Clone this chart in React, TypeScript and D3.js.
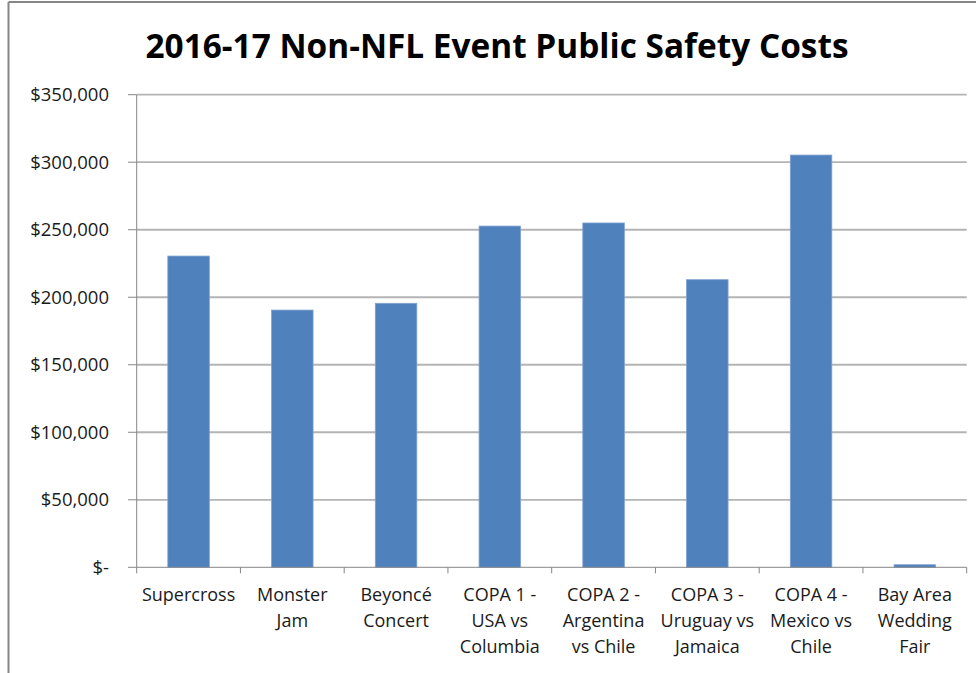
import React from "react";
import * as d3 from "d3";

const categories: string[][] = [
  ["Supercross"],
  ["Monster", "Jam"],
  ["Beyoncé", "Concert"],
  ["COPA 1 -", "USA vs", "Columbia"],
  ["COPA 2 -", "Argentina", "vs Chile"],
  ["COPA 3 -", "Uruguay vs", "Jamaica"],
  ["COPA 4 -", "Mexico vs", "Chile"],
  ["Bay Area", "Wedding", "Fair"],
];
const costs: number[] = [230500, 190500, 195500, 252700, 255000, 213000, 305300, 1900];
const yTicks: number[] = [0, 50000, 100000, 150000, 200000, 250000, 300000, 350000];
const title = "2016-17 Non-NFL Event Public Safety Costs";

const W = 976;
const H = 673;
const left = 136.7;
const right = 966.7;
const top = 94.7;
const bottom = 567.3;
const font = "'Open Sans', 'Noto Sans', sans-serif";

export default function App() {
  const ids = categories.map((_, i) => String(i));
  const x = d3.scaleBand<string>().domain(ids).range([left, right]).paddingInner(0.6).paddingOuter(0.3);
  const y = d3.scaleLinear().domain([0, 350000]).range([bottom, top]);
  const fmt = (v: number) => (v === 0 ? "$-" : "$" + d3.format(",")(v));
  const step = x.step();
  const tickXs = d3.range(categories.length + 1).map((i) => left + i * step);

  return (
    <svg width={W} height={H} style={{ position: "absolute", left: 0, top: 0, background: "#fff" }}>
      <rect x={0} y={0} width={W} height={H} fill="#fff" />
      <line x1={8.5} y1={2} x2={8.5} y2={H} stroke="#868686" strokeWidth={2} />
      <line x1={8.5} y1={2} x2={W} y2={2} stroke="#868686" strokeWidth={2} />
      <text x={497} y={58} textAnchor="middle" fontFamily={font} fontWeight="bold" fontSize={34} fill="#000"
        textLength={703} lengthAdjust="spacingAndGlyphs">
        {title}
      </text>
      {yTicks.map((t) => (
        <g key={t}>
          {t > 0 && <line x1={left} x2={right} y1={y(t)} y2={y(t)} stroke="#B4B4B4" strokeWidth={1.8} />}
          <line x1={128} x2={left} y1={y(t)} y2={y(t)} stroke="#868686" strokeWidth={1} />
          <text x={109} y={y(t)} dy="0.35em" textAnchor="end" fontFamily={font} fontSize={18.5} fill="#1a1a1a">
            {fmt(t)}
          </text>
        </g>
      ))}
      {costs.map((v, i) => (
        <rect key={i} x={x(ids[i])} y={y(v)} width={x.bandwidth()} height={bottom - y(v)}
          fill="#4F81BD" stroke="#7EA1CF" strokeWidth={0.8} />
      ))}
      <line x1={left} x2={left} y1={top} y2={bottom} stroke="#868686" strokeWidth={1} />
      <line x1={left} x2={right} y1={bottom} y2={bottom} stroke="#868686" strokeWidth={1} />
      {tickXs.map((tx, i) => (
        <line key={i} x1={tx} x2={tx} y1={bottom} y2={bottom + 6} stroke="#868686" strokeWidth={1} />
      ))}
      {categories.map((lines, i) => (
        <text key={i} textAnchor="middle" fontFamily={font} fontSize={18} fill="#1a1a1a">
          {lines.map((ln, j) => (
            <tspan key={j} x={(x(ids[i]) as number) + x.bandwidth() / 2} y={595 + j * 26} dy="0.35em">
              {ln}
            </tspan>
          ))}
        </text>
      ))}
    </svg>
  );
}
